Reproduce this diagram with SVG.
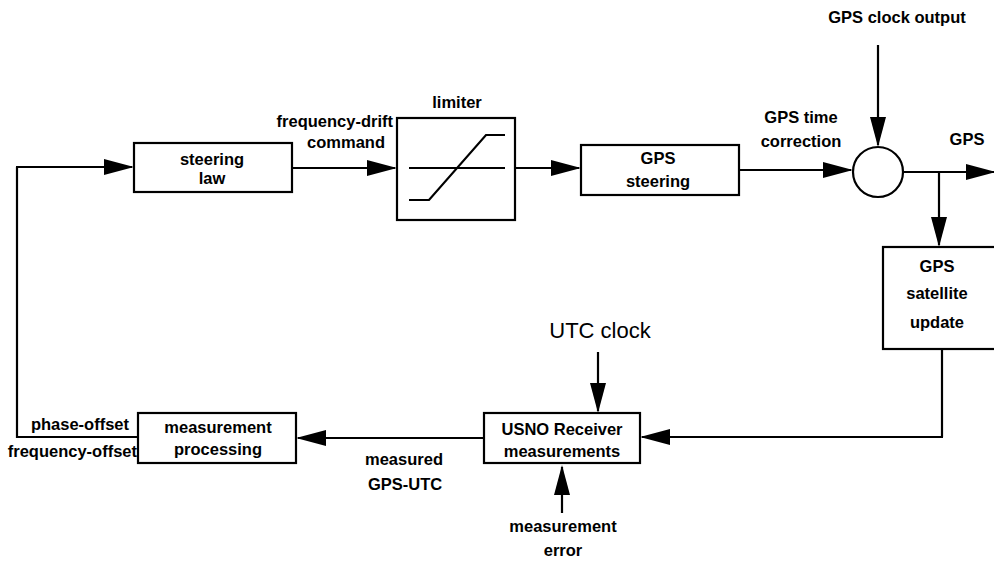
<svg xmlns="http://www.w3.org/2000/svg" width="994" height="563" viewBox="0 0 994 563">
<style>
  .box { fill: #fff; stroke: #000; stroke-width: 2.2; }
  .ln { fill: none; stroke: #000; stroke-width: 2.2; }
  .arr { fill: none; stroke: #000; stroke-width: 2.2; marker-end: url(#ah); }
  text { font-family: "Liberation Sans", Arial, sans-serif; font-size: 16.5px; font-weight: bold; fill: #000; }
  .c { text-anchor: middle; }
  .r { text-anchor: end; }
  .big { font-size: 22px; font-weight: normal; }
</style>
<defs>
  <marker id="ah" markerUnits="userSpaceOnUse" markerWidth="30" markerHeight="16" refX="28" refY="8" orient="auto">
    <path d="M0,0 L30,8 L0,16 z" fill="#000"/>
  </marker>
</defs>
<rect width="994" height="563" fill="#fff"/>

<g id="connectors">
  <!-- feedback loop left -->
  <path class="ln" d="M138,437 H17 V167"/>
  <path class="arr" d="M16,167 H132"/>
  <path class="arr" d="M292,168 H395"/>
  <path class="arr" d="M515,168 H579"/>
  <path class="arr" d="M739,170 H851"/>
  <path class="arr" d="M878,45 V145"/>
  <path class="arr" d="M903,172 H994"/>
  <path class="arr" d="M939,171 V245"/>
  <path class="ln" d="M942,349 V437"/>
  <path class="arr" d="M943,437 H642"/>
  <path class="arr" d="M598,352 V411"/>
  <path class="arr" d="M484,438 H298"/>
  <path class="arr" d="M562,513 V467"/>
</g>

<g id="steering-law">
  <rect class="box" x="134" y="143" width="158" height="49"/>
  <text class="c" x="212" y="165">steering</text>
  <text class="c" x="212" y="184">law</text>
</g>

<g id="limiter">
  <rect class="box" x="397" y="118" width="118" height="102"/>
  <path class="ln" d="M409,168 H505"/>
  <path class="ln" d="M409,200 H429 L486,135 H505"/>
  <text class="c" x="457" y="108">limiter</text>
</g>

<g id="gps-steering">
  <rect class="box" x="581" y="145" width="158" height="50"/>
  <text class="c" x="658" y="164">GPS</text>
  <text class="c" x="658" y="187">steering</text>
</g>

<g id="sum">
  <circle class="box" cx="878" cy="172" r="25"/>
</g>

<g id="gps-satellite-update">
  <rect class="box" x="883" y="247" width="130" height="102"/>
  <text class="c" x="937" y="272">GPS</text>
  <text class="c" x="937" y="299">satellite</text>
  <text class="c" x="937" y="328">update</text>
</g>

<g id="usno-receiver">
  <rect class="box" x="484" y="413" width="156" height="50"/>
  <text class="c" x="562" y="435">USNO Receiver</text>
  <text class="c" x="562" y="457">measurements</text>
</g>

<g id="measurement-processing">
  <rect class="box" x="138" y="413" width="158" height="50"/>
  <text class="c" x="218" y="433">measurement</text>
  <text class="c" x="218" y="455">processing</text>
</g>

<g id="labels">
  <text class="r" x="393" y="127">frequency-drift</text>
  <text class="c" x="346" y="148">command</text>
  <text class="c" x="801" y="123">GPS time</text>
  <text class="c" x="801" y="147">correction</text>
  <text class="c" x="967" y="145">GPS</text>
  <text class="c" x="897" y="23">GPS clock output</text>
  <text class="c big" x="600" y="338">UTC clock</text>
  <text class="r" x="129" y="430">phase-offset</text>
  <text class="r" x="137" y="457">frequency-offset</text>
  <text class="c" x="404" y="465">measured</text>
  <text class="c" x="405" y="490">GPS-UTC</text>
  <text class="c" x="563" y="532">measurement</text>
  <text class="c" x="563" y="556">error</text>
</g>
</svg>
